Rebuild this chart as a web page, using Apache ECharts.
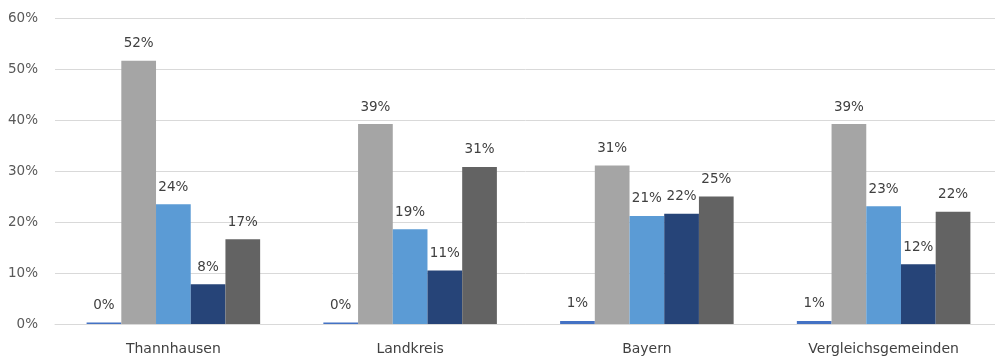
<!DOCTYPE html>
<html>
<head>
<meta charset="utf-8">
<script src="https://cdn.jsdelivr.net/npm/echarts@6/dist/echarts.min.js"></script>
<style>html,body{margin:0;padding:0;background:#fff}#c{width:995px;height:361px}</style>
</head>
<body>
<div id="c"></div>
<script>
const categories = ['Thannhausen', 'Landkreis', 'Bayern', 'Vergleichsgemeinden'];
const series1 = [0.3, 0.3, 0.6, 0.6];
const series2 = [51.6, 39.2, 31.1, 39.2];
const series3 = [23.5, 18.6, 21.2, 23.1];
const series4 = [7.8, 10.5, 21.6, 11.7];
const series5 = [16.6, 30.8, 25.0, 22.0];
const yTicks = [0, 10, 20, 30, 40, 50, 60];

const colors = ['#4472c4', '#a5a5a5', '#5b9bd5', '#264478', '#636363'];
const FONT = 'DejaVu Sans';
const chart = echarts.init(document.getElementById('c'));
const mk = (name, data, i) => ({
  name, type: 'bar', data,
  barGap: '0%', barCategoryGap: '26.7%',
  itemStyle: { color: colors[i] },
  label: {
    show: true, position: 'top', distance: 10,
    fontFamily: FONT, fontSize: 13.5, color: '#404040',
    formatter: p => Math.round(p.value) + '%'
  },
  emphasis: { disabled: true }
});
chart.setOption({
  animation: false,
  grid: { left: 55, top: 18, width: 947, height: 306, containLabel: false, outerBoundsMode: 'none' },
  xAxis: {
    type: 'category', data: categories,
    axisLine: { show: true, lineStyle: { color: '#d9d9d9', width: 1 } },
    axisTick: { show: false },
    axisLabel: { margin: 18, fontFamily: FONT, fontSize: 14, color: '#404040' }
  },
  yAxis: {
    type: 'value', min: yTicks[0], max: yTicks[yTicks.length - 1], interval: 10,
    axisLine: { show: false }, axisTick: { show: false },
    splitLine: { lineStyle: { color: '#d9d9d9', width: 1 } },
    axisLabel: { margin: 17, fontFamily: FONT, fontSize: 13.5, color: '#595959', formatter: v => v + '%' }
  },
  series: [
    mk('Serie 1', series1, 0),
    mk('Serie 2', series2, 1),
    mk('Serie 3', series3, 2),
    mk('Serie 4', series4, 3),
    mk('Serie 5', series5, 4)
  ]
});
</script>
</body>
</html>
